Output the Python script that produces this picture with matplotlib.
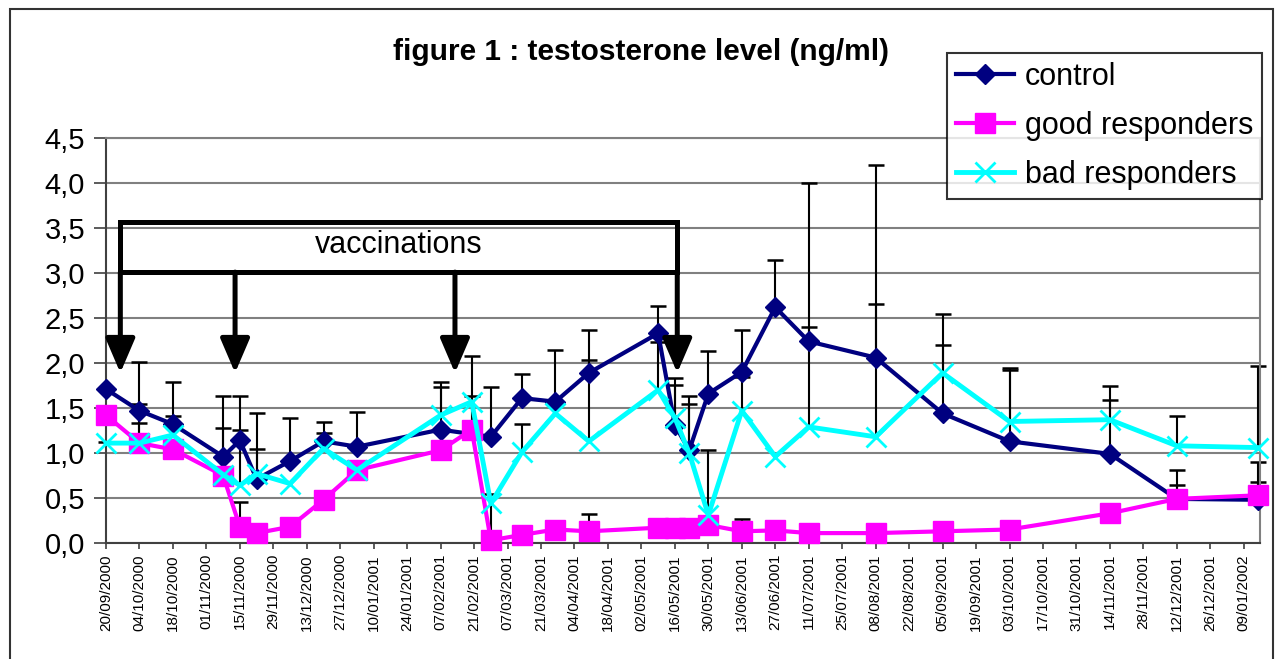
import numpy as np
import pandas as pd
import matplotlib
matplotlib.use("Agg")
import matplotlib.pyplot as plt
import matplotlib.dates as mdates
from matplotlib.patches import Rectangle

plt.rcParams['font.family'] = ['Liberation Sans', 'DejaVu Sans']

# sampling dates (dd/mm/yyyy)
sample_dates = ["20/09/2000", "04/10/2000", "18/10/2000", "08/11/2000", "15/11/2000",
                "22/11/2000", "06/12/2000", "20/12/2000", "03/01/2001", "07/02/2001",
                "20/02/2001", "28/02/2001", "13/03/2001", "27/03/2001", "10/04/2001",
                "09/05/2001", "16/05/2001", "22/05/2001", "30/05/2001", "13/06/2001",
                "27/06/2001", "11/07/2001", "08/08/2001", "05/09/2001", "03/10/2001",
                "14/11/2001", "12/12/2001", "15/01/2002"]
nan = np.nan
# testosterone (ng/ml) and upper end of error bar
control = [1.71, 1.47, 1.32, 0.96, 1.14, 0.71, 0.91, 1.13, 1.07, 1.26, nan, 1.18, 1.61, 1.57,
           1.89, 2.33, 1.31, 1.03, 1.66, 1.90, 2.62, 2.24, 2.06, 1.44, 1.13, 0.99, 0.49, 0.48]
control_top = [nan, 2.01, 1.79, 1.63, 1.63, 1.44, 1.39, 1.35, 1.46, 1.79, nan, 1.73, 1.88, 2.14,
               2.37, 2.63, 1.83, 1.63, 2.13, 2.37, 3.15, 4.00, 4.20, 2.54, 1.94, 1.74, 0.81, 0.90]
good = [1.42, 1.11, 1.04, 0.75, 0.18, 0.11, 0.18, 0.48, 0.81, 1.03, 1.26, 0.03, 0.09, 0.15,
        0.13, 0.17, 0.17, 0.17, 0.20, 0.13, 0.14, 0.11, 0.11, 0.13, 0.15, 0.33, 0.49, 0.53]
good_top = [nan, 1.33, nan, nan, 0.46, nan, nan, nan, nan, nan, 1.63, 0.55, nan, nan,
            0.32, nan, nan, nan, nan, 0.27, nan, nan, nan, nan, nan, nan, 0.64, 0.68]
bad = [1.11, 1.11, 1.20, 0.76, 0.64, 0.77, 0.66, 1.05, 0.81, 1.42, 1.57, 0.44, 1.01, 1.44,
       1.13, 1.70, 1.39, 1.00, 0.31, 1.47, 0.96, 1.29, 1.18, 1.89, 1.35, 1.37, 1.08, 1.06]
bad_top = [1.12, 1.55, 1.41, 1.28, 1.26, 1.04, nan, 1.22, nan, 1.73, 2.08, nan, 1.32, nan,
           2.03, 2.23, 1.76, 1.54, 1.03, 1.84, nan, 2.40, 2.66, 2.20, 1.92, 1.59, 1.41, 1.97]

vacc_dates = ["26/09/2000", "13/11/2000", "13/02/2001", "17/05/2001"]
tick_start, tick_end = "20/09/2000", "09/01/2002"

dates = pd.to_datetime(sample_dates, format="%d/%m/%Y")
vdates = pd.to_datetime(vacc_dates, format="%d/%m/%Y")
ticks = pd.date_range(pd.to_datetime(tick_start, format="%d/%m/%Y"),
                      pd.to_datetime(tick_end, format="%d/%m/%Y"), freq="14D")

fig = plt.figure(figsize=(12.76, 6.59), dpi=100)
ax = fig.add_axes([106/1276, 1-543/659, (1260-106)/1276, (543-138)/659])

series = [("control", control, control_top, "#000080", "D", 10, 3),
          ("good responders", good, good_top, "#FF00FF", "s", 14, 3),
          ("bad responders", bad, bad_top, "#00FFFF", "x", 15, 3.5)]

for name, vals, tops, col, mk, ms, lw in series:
    v = np.array(vals, dtype=float)
    t = np.array(tops, dtype=float)
    ok = ~np.isnan(v)
    eb = ok & ~np.isnan(t)
    ax.vlines(dates[eb], v[eb], t[eb], color="black", lw=1.5, zorder=2)
    ax.plot(dates[eb], t[eb], "_", ms=12, mew=1.8, color="black", zorder=2, clip_on=False)
    if mk == "x":
        ax.plot(dates[ok], v[ok], "-", color=col, lw=lw, marker=mk, ms=ms, mew=2,
                label=name, zorder=3, clip_on=False)
    else:
        ax.plot(dates[ok], v[ok], "-", color=col, lw=lw, marker=mk, ms=ms,
                mec=col, label=name, zorder=3, clip_on=False)

# vaccination bracket
ax.add_patch(Rectangle((mdates.date2num(vdates[0]), 3.01),
                       mdates.date2num(vdates[-1]) - mdates.date2num(vdates[0]), 0.56,
                       fill=False, ec="black", lw=3.6, zorder=5))
for d in vdates:
    ax.annotate("", xy=(d, 1.89), xytext=(d, 3.01),
                arrowprops=dict(arrowstyle="-|>,head_width=0.9,head_length=2.1",
                                lw=3.6, color="black", shrinkA=0, shrinkB=0), zorder=5)
xmid = mdates.num2date((mdates.date2num(vdates[0]) + mdates.date2num(vdates[-1])) / 2)
ax.text(xmid, 3.31, "vaccinations", ha="center", va="center", fontsize=22, zorder=6)

ax.set_xlim(mdates.date2num(ticks[0]), mdates.date2num(ticks[0]) + 482.8)
ax.set_ylim(0, 4.5)
ax.set_xticks(ticks)
ax.set_xticklabels([d.strftime("%d/%m/%Y") for d in ticks], rotation=90, fontsize=11)
yt = np.arange(0, 4.51, 0.5)
ax.set_yticks(yt)
ax.set_yticklabels([f"{v:.1f}".replace(".", ",") for v in yt], fontsize=21)
ax.tick_params(axis="y", length=9, width=1.2, color="#404040", pad=6)
ax.tick_params(axis="x", length=4, width=1.2, color="#404040", pad=4)
ax.grid(axis="y", color="#808080", lw=1.5, zorder=0)
ax.set_axisbelow(True)
for s in ["top", "right"]:
    ax.spines[s].set_color("#808080")
    ax.spines[s].set_linewidth(1.5)
for s in ["left", "bottom"]:
    ax.spines[s].set_color("#404040")
    ax.spines[s].set_linewidth(1.5)

fig.text(641/1276, 1-52/659, "figure 1 : testosterone level (ng/ml)", ha="center",
         va="center", fontsize=21.5, fontweight="bold")

leg = fig.legend(loc="upper left", bbox_to_anchor=(947/1276, 1-53/659), borderaxespad=0,
                 fontsize=22, frameon=True, fancybox=False, handlelength=1.9,
                 handletextpad=0.35, labelspacing=0.62, borderpad=0.3)
leg.get_frame().set_edgecolor("black")
leg.get_frame().set_linewidth(1.5)

fig.patches.append(Rectangle((10/1276, -0.05), (1273-10)/1276, 1.05-9/659,
                             transform=fig.transFigure, fill=False, ec="#333333", lw=1.5))

fig.savefig("out.png", dpi=100)
